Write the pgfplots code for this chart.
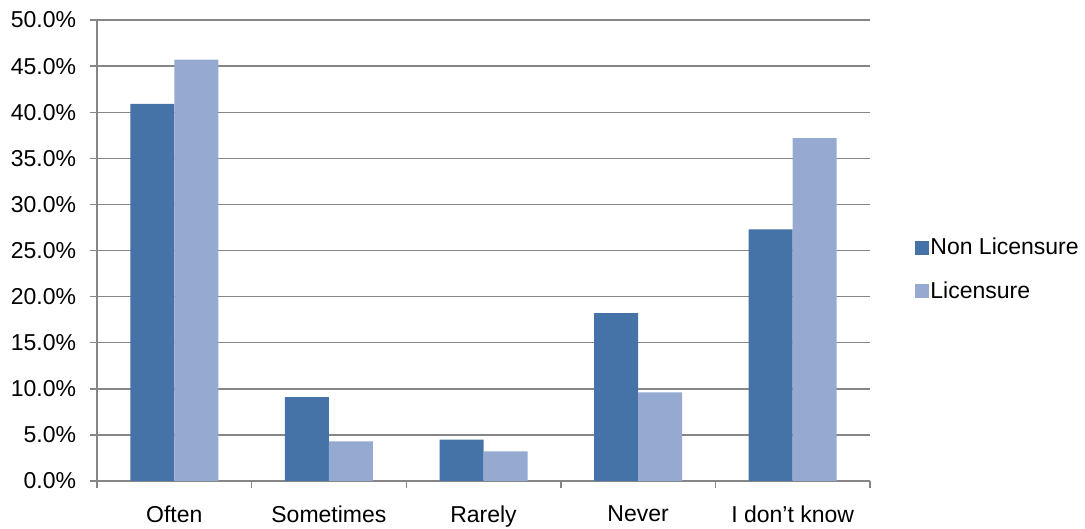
\documentclass[border=0pt]{standalone}
\usepackage{pgfplots}
\pgfplotsset{compat=1.18}
\usepackage{fontspec}
\setmainfont{Liberation Sans}
\definecolor{darkbar}{HTML}{4572A7}
\definecolor{lightbar}{HTML}{95A9D1}
\definecolor{gridgray}{HTML}{868686}
\begin{document}
\fontsize{23bp}{27bp}\selectfont
\begin{tikzpicture}
\path[use as bounding box] (0,0) rectangle (1085bp,529bp);
\begin{axis}[
  at={(97bp,48bp)}, anchor=south west,
  width=773bp, height=461bp, scale only axis,
  ybar=0pt, bar width=44bp,
  xmin=-0.5, xmax=4.5, ymin=0, ymax=50,
  axis x line*=bottom, axis y line*=left,
  axis line style={gridgray, line width=1.4bp},
  ytick={0,5,...,50},
  yticklabels={0.0\%,5.0\%,10.0\%,15.0\%,20.0\%,25.0\%,30.0\%,35.0\%,40.0\%,45.0\%,50.0\%},
  ymajorgrids, grid style={gridgray, line width=1.4bp},
  xtick={-0.5,0.5,...,4.5}, xticklabels={},
  extra x ticks={0,1,2,3,4},
  extra x tick labels={Often,Sometimes,Rarely,Never,I don’t know},
  extra x tick style={major tick length=0pt, grid=none, xticklabel style={yshift=-17bp}},
  tick align=outside, major tick length=7bp,
  tick style={gridgray, line width=1.4bp},
  /pgf/number format/assume math mode=true,
  tick label style={font=\fontsize{23bp}{27bp}\selectfont, text=black},
  yticklabel style={xshift=-6bp},
  legend style={at={(1.054,0.458)}, anchor=west, draw=none, fill=none,
    font=\fontsize{23bp}{27bp}\selectfont, row sep=20bp,
    nodes={inner sep=1.5bp}},
  legend cell align=left,
  legend image code/.code={\fill[#1] (-2bp,-7bp) rectangle (12bp,7bp);},
]
\addplot[fill=darkbar, draw=none] coordinates {(0,40.9) (1,9.1) (2,4.5) (3,18.2) (4,27.3)};
\addplot[fill=lightbar, draw=none] coordinates {(0,45.7) (1,4.3) (2,3.2) (3,9.6) (4,37.2)};
\legend{Non Licensure, Licensure}
\end{axis}
\end{tikzpicture}
\end{document}
